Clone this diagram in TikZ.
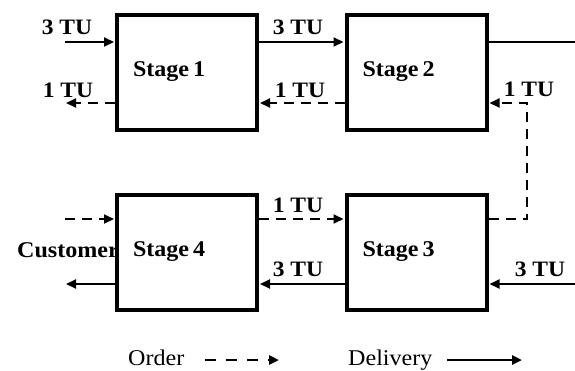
\documentclass[tikz,border=0pt]{standalone}
\usepackage{fontspec}
\setmainfont{Liberation Serif}[FakeStretch=1.07]
\usetikzlibrary{arrows.meta}
\begin{document}
\begin{tikzpicture}[x=1pt,y=-1pt,
  stagebox/.style={draw,line width=4pt,fill=white,minimum width=140pt,minimum height=115pt,
     text width=108pt,inner xsep=16pt,align=left,font=\fontsize{22.5}{26}\selectfont\bfseries},
  lbl/.style={inner sep=0pt,anchor=base,font=\fontsize{22}{26}\selectfont\bfseries},
  legtext/.style={inner sep=0pt,anchor=base west,font=\fontsize{22.5}{26}\selectfont},
  deliv/.style={line width=2pt,-{Triangle[length=10pt,width=9pt]},shorten >=1pt},
  order/.style={line width=2pt,dash pattern=on 10pt off 7pt,-{Triangle[length=10pt,width=9pt]},shorten >=1pt},
  plain/.style={line width=2pt}]
\useasboundingbox (0,0) rectangle (575,370);
\node[inner sep=0pt,anchor=base west,font=\fontsize{22.5}{26}\selectfont\bfseries] (cust) at (17,257) {Customer};
\node[stagebox] (s1) at (187,72) {Stage\hspace{0.18em}1};
\node[stagebox] (s2) at (416.5,72) {Stage\hspace{0.18em}2};
\node[stagebox] (s4) at (187,252) {Stage\hspace{0.18em}4};
\node[stagebox] (s3) at (416.5,252) {Stage\hspace{0.18em}3};
\coordinate (in1) at (65,42);
\coordinate (o1) at (65,103);
\coordinate (e2) at (575,42);
\coordinate (c1) at (527,103);
\coordinate (c2) at (527,219);
\coordinate (e3) at (575,284);
\coordinate (in4) at (65,219);
\coordinate (o4) at (65,284);
\draw[deliv] (in1) -- (in1 -| s1.west);
\draw[order] (o1 -| s1.west) -- (o1);
\draw[deliv] (s1.east |- in1) -- (s2.west |- in1);
\draw[order] (s2.west |- o1) -- (s1.east |- o1);
\draw[plain] (s2.east |- in1) -- (e2);
\draw[order] (c2 -| s3.east) -- (c2) -- (c1) -- (c1 -| s2.east);
\draw[deliv] (e3) -- (e3 -| s3.east);
\draw[deliv] (s3.west |- e3) -- (s4.east |- e3);
\draw[order] (s4.east |- c2) -- (s3.west |- c2);
\draw[order] (in4) -- (in4 -| s4.west);
\draw[deliv] (o4 -| s4.west) -- (o4);
\node[lbl] (l1) at (67,34) {3 TU};
\node[lbl] (l2) at (68,97) {1 TU};
\node[lbl] (l3) at (298,34) {3 TU};
\node[lbl] (l4) at (300,97) {1 TU};
\node[lbl] (l5) at (529,96) {1 TU};
\node[lbl] (l6) at (298,212) {1 TU};
\node[lbl] (l7) at (298,276) {3 TU};
\node[lbl] (l8) at (540,276) {3 TU};
\node[legtext] (ord) at (128,365) {Order};
\node[legtext] (del) at (348,365) {Delivery};
\coordinate (oa) at (205,360);
\coordinate (ob) at (279,360);
\coordinate (da) at (447,360);
\coordinate (db) at (522,360);
\draw[line width=2.5pt,dash pattern=on 11pt off 10pt,-{Triangle[length=10pt,width=9pt]}] (oa) -- (ob);
\draw[line width=2.5pt,-{Triangle[length=10pt,width=9pt]}] (da) -- (db);
\end{tikzpicture}
\end{document}
